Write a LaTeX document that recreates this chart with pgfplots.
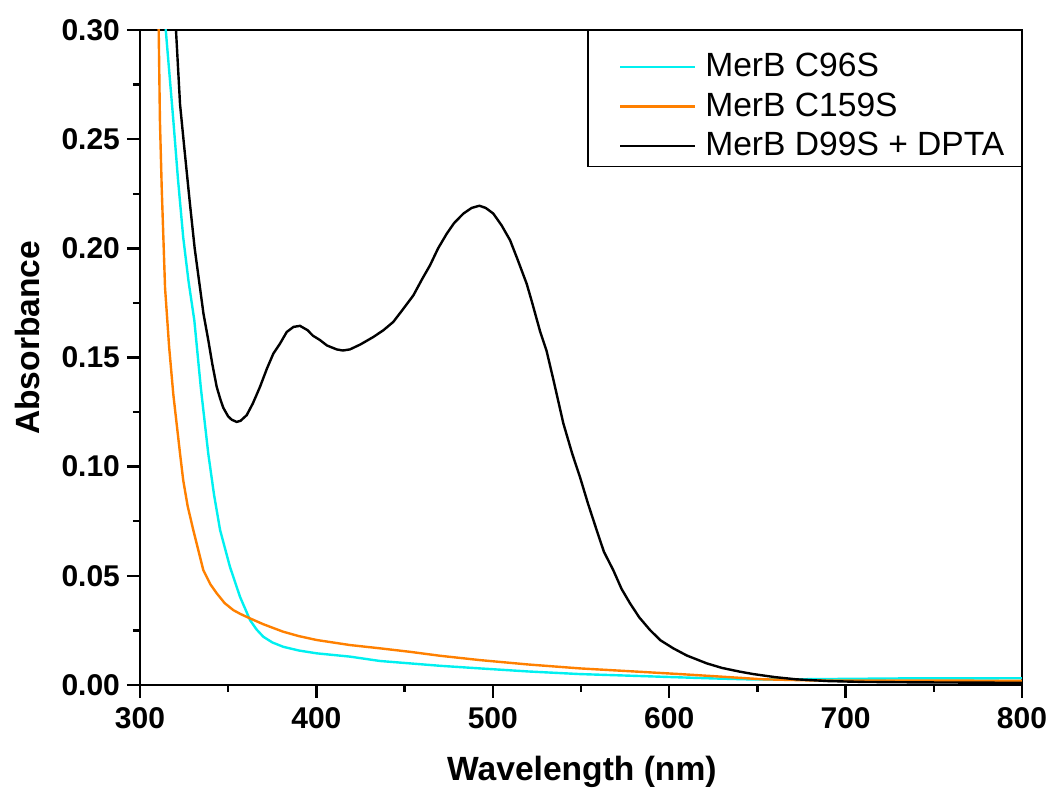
\documentclass[border=0pt]{standalone}
\usepackage{fontspec}
\setmainfont{Liberation Sans}
\usepackage{pgfplots}
\pgfplotsset{compat=1.18}
\definecolor{mycyan}{RGB}{0,240,240}
\definecolor{myorange}{RGB}{255,128,0}
\begin{document}
\begin{tikzpicture}
\begin{axis}[
  scale only axis,
  width=441pt, height=327.5pt,
  xmin=300, xmax=800, ymin=0, ymax=0.30,
  xtick={300,400,...,800},
  ytick={0,0.05,...,0.31},
  minor tick num=1,
  tick align=outside,
  xtick pos=bottom, ytick pos=left,
  major tick length=6.5pt, minor tick length=3.5pt,
  every tick/.style={line width=1.2pt, black},
  axis line style={line width=1.2pt},
  /pgf/number format/assume math mode=true,
  yticklabel style={/pgf/number format/.cd, fixed, fixed zerofill, precision=2},
  tick label style={font=\fontsize{15}{18}\selectfont\bfseries},
  xticklabel style={yshift=-1pt},
  xlabel={Wavelength (nm)}, ylabel={Absorbance},
  label style={font=\fontsize{16.8}{20}\selectfont\bfseries},
  xlabel style={at={(axis description cs:0.501,-0.133)}, anchor=center},
  ylabel style={at={(axis description cs:-0.127,0.53)}, anchor=center},
  legend cell align=left,
  legend image code/.code={\path (0pt,-4pt); \draw[#1] (8.5pt,-4pt) -- (46pt,-4pt); \path (49pt,-4pt);},
  legend style={at={(1,1)}, anchor=north east, draw=black, line width=0.6pt,
    font=\fontsize{16.8}{20}\selectfont, inner xsep=7pt, inner ysep=2.5pt, row sep=-3.75pt,
    nodes={inner sep=1.5pt, text height=19pt, text depth=1.5pt}},
  clip=true,
]
\addplot[mycyan, line width=1.2pt] coordinates {
(308,0.42) (314.6,0.30) (318.9,0.2586) (321.5,0.232) (324.5,0.205) (327.5,0.185) (330.8,0.167)
(334.5,0.136) (338.7,0.106) (342,0.087) (345.4,0.071) (351,0.0541) (356.7,0.0404)
(362.4,0.0297) (366,0.0255) (369.9,0.0221) (375,0.0195) (381.2,0.0175) (390,0.0158)
(400.2,0.0145) (419,0.013) (436,0.011) (453,0.0099) (470,0.0088) (492.7,0.0076)
(520,0.0062) (549.4,0.005) (580,0.0042) (606,0.0035) (625,0.003) (644,0.0026)
(670,0.0026) (700,0.0028) (730,0.003) (760,0.003) (800,0.0031)
};
\addlegendentry{MerB C96S}
\addplot[myorange, line width=1.2pt] coordinates {
(306,0.45) (310.6,0.30) (311.3,0.2586) (312.3,0.228) (314.2,0.182) (316.5,0.155)
(318.9,0.133) (322.7,0.106) (324.5,0.0938) (327,0.082) (330.2,0.071) (335.9,0.0526)
(340,0.046) (343.5,0.042) (348,0.0375) (352.9,0.0343) (357,0.0325) (362.4,0.0305)
(370,0.0278) (381.2,0.0244) (390,0.0224) (400.2,0.0206) (419,0.0183) (436,0.0168)
(453,0.0152) (470,0.0134) (492.7,0.0114) (520,0.0094) (549.4,0.0076) (580,0.0062)
(606,0.005) (630,0.0038) (653.3,0.0026) (680,0.0021) (720,0.002) (760,0.002) (800,0.0019)
};
\addlegendentry{MerB C159S}
\addplot[black, line width=1.2pt] coordinates {
(316,0.36) (320.4,0.30) (322.7,0.266) (325,0.247) (328.3,0.2205) (331,0.200) (334,0.182)
(336,0.170) (338.7,0.158) (341,0.147) (343.5,0.1365) (345.5,0.131) (347.2,0.127)
(350,0.123) (352,0.1215) (354.8,0.1205) (357,0.121) (360.5,0.1236) (364,0.129)
(368,0.1365) (372,0.145) (375.6,0.1518) (379.4,0.1564) (383.2,0.1617) (387,0.1640)
(390.7,0.1645) (395,0.1625) (398,0.160) (402,0.158) (406,0.1555) (411.5,0.1537)
(415,0.1532) (419,0.1537) (425,0.156) (432.3,0.1594) (438,0.1625) (443.6,0.1663)
(449,0.172) (455,0.1785) (460,0.186) (464.4,0.1922) (469,0.200) (473.9,0.2067)
(478,0.2115) (483.3,0.2159) (488,0.2185) (492.4,0.2195) (496,0.2185) (500.3,0.2159)
(505,0.2105) (509.8,0.2037) (514,0.195) (519.2,0.1838) (522,0.176) (526.8,0.162)
(530.5,0.153) (534.3,0.140) (540,0.1198) (545,0.106) (549.4,0.0953) (554,0.083)
(558.9,0.0709) (563,0.061) (568.3,0.0526) (573,0.044) (577.8,0.0374) (583,0.031)
(589.1,0.0252) (595,0.0205) (602.3,0.0168) (610,0.0135) (621.3,0.0099) (630,0.0078)
(640.1,0.0061) (647.7,0.005) (660,0.0036) (672,0.0026) (690,0.0018) (710,0.0014)
(740,0.0012) (770,0.0011) (800,0.0010)
};
\addlegendentry{MerB D99S + DPTA}
\end{axis}
\path (-70pt,-55.5pt) rectangle (457pt,342.5pt);
\end{tikzpicture}
\end{document}
